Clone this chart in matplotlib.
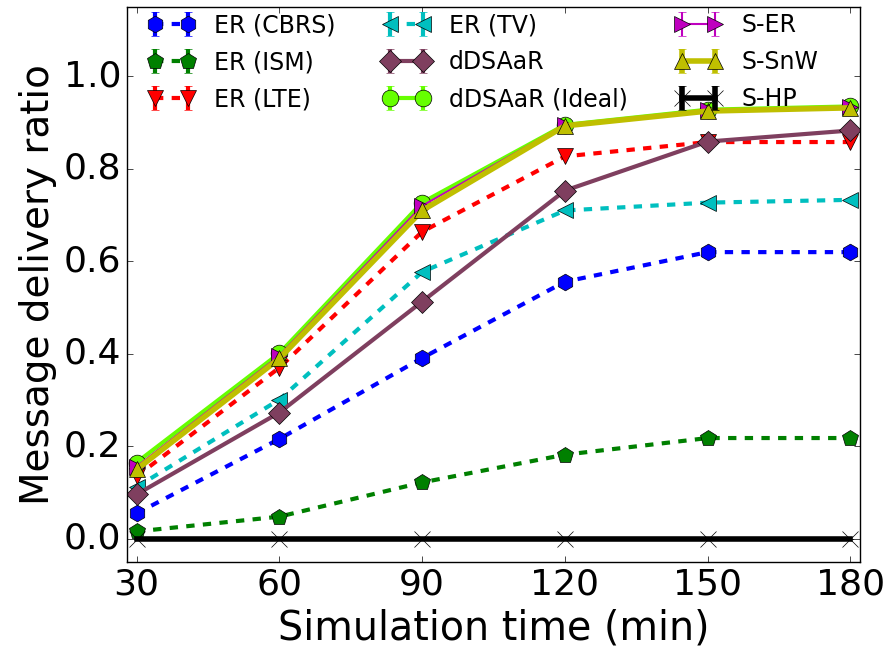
import numpy as np
import matplotlib
matplotlib.use("Agg")
import matplotlib.pyplot as plt

plt.style.use("classic")

sim_time = [30, 60, 90, 120, 150, 180]

er_cbrs = [0.055, 0.216, 0.391, 0.556, 0.620, 0.620]
er_ism = [0.016, 0.048, 0.122, 0.182, 0.218, 0.218]
er_lte = [0.135, 0.370, 0.664, 0.827, 0.858, 0.858]
er_tv = [0.112, 0.301, 0.577, 0.710, 0.727, 0.733]
ddsaar = [0.096, 0.273, 0.513, 0.753, 0.859, 0.883]
ddsaar_ideal = [0.165, 0.401, 0.727, 0.895, 0.928, 0.935]
s_er = [0.156, 0.396, 0.720, 0.895, 0.927, 0.933]
s_snw = [0.150, 0.390, 0.710, 0.893, 0.925, 0.932]
s_hp = [0.0, 0.0, 0.0, 0.0, 0.0, 0.0]

zero_err = np.zeros(len(sim_time))

series = [
    ("ER (CBRS)", er_cbrs, "b", "h", "--", 3, 12),
    ("ER (ISM)", er_ism, "g", "p", "--", 3, 12),
    ("ER (LTE)", er_lte, "r", "v", "--", 3, 12),
    ("ER (TV)", er_tv, "c", "<", "--", 3, 12),
    ("dDSAaR", ddsaar, "#7f3f5f", "D", "-", 3, 11),
    ("dDSAaR (Ideal)", ddsaar_ideal, "#66ff00", "o", "-", 3, 12),
    ("S-ER", s_er, "m", ">", "-", 1.5, 12),
    ("S-SnW", s_snw, "y", "^", "-", 4, 12),
    ("S-HP", s_hp, "k", "x", "-", 4, 12),
]

fig = plt.figure(figsize=(8.9, 6.54), dpi=100)
ax = fig.add_axes([0.1427, 0.1407, 0.8236, 0.8486])

for label, vals, color, marker, ls, lw, ms in series:
    ax.errorbar(sim_time, vals, yerr=zero_err, label=label, color=color,
                marker=marker, linestyle=ls, linewidth=lw, markersize=ms,
                markeredgecolor="k" if marker != "x" else color, capsize=3)

ax.set_xlim(28, 182)
ax.set_ylim(-0.05, 1.15)
ax.set_xticks(sim_time)
ax.set_yticks([0.0, 0.2, 0.4, 0.6, 0.8, 1.0])
ax.set_yticklabels(["0.0", "0.2", "0.4", "0.6", "0.8", "1.0"])
ax.tick_params(labelsize=26)
ax.set_xlabel("Simulation time (min)", fontsize=28.5)
ax.set_ylabel("Message delivery ratio", fontsize=28)

ax.legend(loc="upper left", bbox_to_anchor=(0, 1.027), ncol=3, frameon=False,
          fontsize=17, numpoints=2, labelspacing=0.55)

fig.savefig("out.png", dpi=100)
